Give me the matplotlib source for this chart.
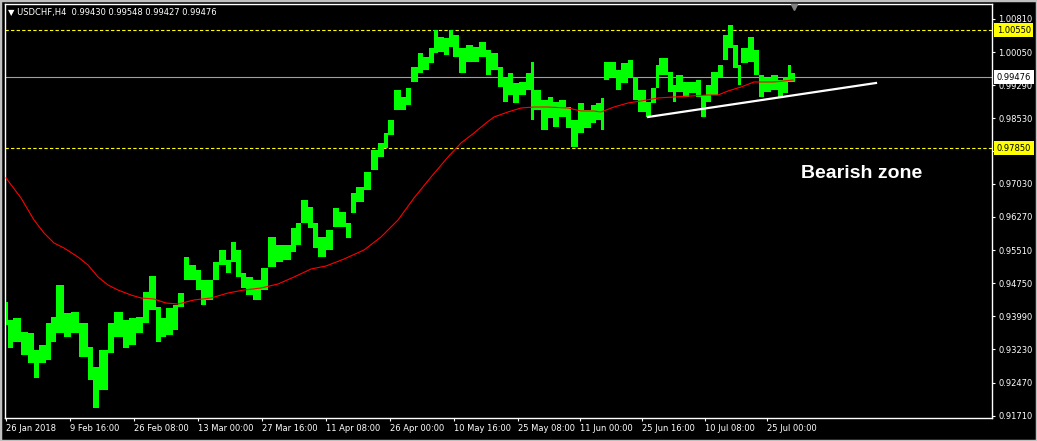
import matplotlib
matplotlib.use("Agg")
import matplotlib.pyplot as plt
import matplotlib.transforms as mtransforms
from matplotlib.patches import Rectangle
import numpy as np

# H4 price bars, grouped in short runs (start bar, high, low)
bar_start = [0, 2, 7, 15, 22, 28, 33, 40, 45, 50, 58, 65, 73, 82, 87, 93, 102, 108, 117, 123,
             130, 137, 143, 150, 155, 160, 167, 172, 178, 183, 190, 195, 200, 207, 213, 220, 225, 230, 235, 240,
             247, 255, 262, 270, 277, 285, 290, 295, 302, 307, 312, 320, 327, 333, 340, 345, 350, 358, 365, 372,
             378, 382, 388, 395, 400, 405, 412, 417, 423, 428, 432, 438, 443, 447, 453, 460, 467, 473, 480, 485,
             492, 497, 502, 507, 513, 520, 525, 528, 535, 542, 547, 553, 560, 565, 572, 578, 585, 590, 595, 598,
             603, 610, 615, 622, 627, 632, 640, 645, 650, 653, 662, 667, 670, 677, 683, 690, 695, 700, 705, 712,
             717, 722, 727, 732, 735, 742, 748, 753, 758, 765, 772, 777, 782, 785]
last_bar = 789

bar_high = [0.94318, 0.93905, 0.93951, 0.93630, 0.93607, 0.93217, 0.93331, 0.93836, 0.93974, 0.94708,
            0.94066, 0.94088, 0.93836, 0.93286, 0.92827, 0.93217, 0.93836, 0.94088, 0.93905, 0.93951,
            0.93974, 0.94547, 0.94914, 0.94203, 0.93951, 0.94180, 0.94249, 0.94524, 0.95350, 0.95167,
            0.95052, 0.94823, 0.94823, 0.95236, 0.95511, 0.95281, 0.95694, 0.95511, 0.94983, 0.94891,
            0.94823, 0.95098, 0.95809, 0.95626, 0.95626, 0.96016, 0.96130, 0.96658, 0.96497, 0.96130,
            0.95809, 0.95970, 0.96474, 0.96383, 0.96130, 0.96818, 0.96956, 0.97300, 0.97805, 0.97965,
            0.98195, 0.98493, 0.99181, 0.99021, 0.99227, 0.99709, 1.00030, 0.99938, 1.00145, 1.00558,
            1.00397, 1.00374, 1.00558, 1.00443, 1.00145, 1.00214, 1.00168, 1.00282, 1.00099, 1.00030,
            0.99709, 0.99480, 0.99571, 0.99342, 0.99365, 0.99571, 0.99824, 0.99181, 0.98952, 0.99021,
            0.98906, 0.98952, 0.98791, 0.98493, 0.98883, 0.98723, 0.98837, 0.98883, 0.98998, 0.99824,
            0.99824, 0.99640, 0.99801, 0.99870, 0.99480, 0.99181, 0.98906, 0.99227, 0.99755, 0.99915,
            0.99594, 0.99296, 0.99525, 0.99365, 0.99365, 0.99411, 0.99067, 0.99296, 0.99594, 0.99755,
            1.00443, 1.00672, 1.00214, 0.99755, 1.00145, 1.00397, 1.00099, 0.99525, 0.99457, 0.99525,
            0.99411, 0.99480, 0.99755, 0.99571]

bar_low = [0.93790, 0.93263, 0.93400, 0.93102, 0.92918, 0.92574, 0.92918, 0.92987, 0.93400, 0.93607,
           0.93515, 0.93607, 0.93056, 0.92528, 0.91886, 0.92299, 0.93148, 0.93515, 0.93263, 0.93331,
           0.93607, 0.93836, 0.94134, 0.93400, 0.93515, 0.93561, 0.93676, 0.94203, 0.94823, 0.94823,
           0.94593, 0.94249, 0.94364, 0.94823, 0.95167, 0.94983, 0.95236, 0.94891, 0.94639, 0.94478,
           0.94364, 0.94593, 0.95121, 0.95236, 0.95281, 0.95465, 0.95626, 0.96130, 0.96016, 0.95557,
           0.95350, 0.95511, 0.96038, 0.96038, 0.95786, 0.96360, 0.96612, 0.96887, 0.97346, 0.97644,
           0.97851, 0.98149, 0.98723, 0.98723, 0.98837, 0.99365, 0.99571, 0.99640, 0.99801, 1.00030,
           1.00053, 0.99984, 1.00168, 0.99938, 0.99571, 0.99824, 0.99824, 0.99938, 0.99525, 0.99640,
           0.99250, 0.98906, 0.99067, 0.98883, 0.99067, 0.99181, 0.98493, 0.98723, 0.98264, 0.98539,
           0.98333, 0.98562, 0.98310, 0.97874, 0.98195, 0.98310, 0.98424, 0.98493, 0.98264, 0.99411,
           0.99480, 0.99181, 0.99342, 0.99480, 0.98952, 0.98677, 0.98562, 0.98883, 0.99227, 0.99525,
           0.99135, 0.98906, 0.99135, 0.99021, 0.99113, 0.99021, 0.98562, 0.98906, 0.99067, 0.99480,
           0.99870, 1.00145, 0.99686, 0.99296, 0.99801, 0.99824, 0.99525, 0.99021, 0.99135, 0.99181,
           0.99021, 0.99113, 0.99365, 0.99365]

# moving average (red)
ma_x = [0, 15, 28, 38, 48, 58, 72, 82, 92, 102, 112, 125, 135, 148, 160, 172, 188, 205, 222, 238,
        255, 272, 288, 305, 320, 338, 358, 375, 392, 408, 425, 442, 455, 468, 480, 488, 502, 515, 528, 542,
        562, 575, 588, 595, 608, 622, 635, 652, 668, 685, 702, 712, 722, 735, 748, 768, 787]
ma_y = [0.97162, 0.96704, 0.96199, 0.95901, 0.95671, 0.95557, 0.95350, 0.95167, 0.94891, 0.94708,
        0.94593, 0.94478, 0.94410, 0.94387, 0.94295, 0.94272, 0.94364, 0.94410, 0.94524, 0.94593,
        0.94639, 0.94731, 0.94891, 0.95075, 0.95144, 0.95304, 0.95511, 0.95809, 0.96199, 0.96704,
        0.97185, 0.97644, 0.97965, 0.98195, 0.98424, 0.98562, 0.98677, 0.98768, 0.98791, 0.98791,
        0.98768, 0.98700, 0.98700, 0.98677, 0.98791, 0.98883, 0.98929, 0.98998, 0.99021, 0.99044,
        0.99067, 0.99067, 0.99158, 0.99250, 0.99365, 0.99365, 0.99411]

trend_x = [642, 870]
trend_y = [0.98562, 0.99342]

resistance = 1.00550
support = 0.97850
last_price = 0.99476

date_pos = [0, 64, 128, 192, 256, 320, 384, 448, 512, 574, 636, 699, 761]
date_labels = ['26 Jan 2018', '9 Feb 16:00', '26 Feb 08:00', '13 Mar 00:00', '27 Mar 16:00',
               '11 Apr 08:00', '26 Apr 00:00', '10 May 16:00', '25 May 08:00', '11 Jun 00:00',
               '25 Jun 16:00', '10 Jul 08:00', '25 Jul 00:00']
price_ticks = [0.91710, 0.92470, 0.93230, 0.93990, 0.94750, 0.95510, 0.96270, 0.97030,
               0.97790, 0.98530, 0.99290, 1.00050, 1.00810]

fig = plt.figure(figsize=(10.37, 4.41), dpi=100, facecolor='black')
ax = fig.add_axes([5 / 1037, 23 / 441, 987 / 1037, 414 / 441])
ax.set_facecolor('black')

widths = np.diff(bar_start + [last_bar])
ax.bar(bar_start, np.array(bar_high) - np.array(bar_low), bottom=bar_low, width=widths,
       align='edge', color='#00ff00', linewidth=0, zorder=3)

ax.plot(ma_x, ma_y, color='#ff0000', lw=0.8, zorder=4)
ax.plot(trend_x, trend_y, color='white', lw=1.6, zorder=5)

ax.axhline(resistance, color='#ffff00', lw=0.8, dashes=(3, 2), zorder=2)
ax.axhline(support, color='#ffff00', lw=0.8, dashes=(3, 2), zorder=2)
ax.axhline(last_price, color='#a0a0a4', lw=0.8, zorder=2)

ax.text(856, 0.97277, 'Bearish zone', color='white', fontsize=14, fontweight='bold',
        family='Liberation Sans', ha='center', va='center', zorder=6)

ax.set_xlim(-1, 986)
ax.set_ylim(0.91657, 1.01154)

for s in ax.spines.values():
    s.set_color('white')
    s.set_linewidth(1)

ax.yaxis.tick_right()
ax.set_yticks(price_ticks)
# 0.97790 sits under the support label box, so only its tick mark shows
ax.set_yticklabels(['' if abs(v - support) < 0.001 else f'{v:.5f}' for v in price_ticks])
ax.set_xticks(date_pos)
ax.set_xticklabels(date_labels, ha='left')
ax.tick_params(colors='white', labelsize=6, length=2.5, width=0.8, pad=1.5)
ax.tick_params(axis='y', pad=2)

# price labels on the right scale
trans = mtransforms.blended_transform_factory(ax.transAxes, ax.transData)
for level, bg in [(resistance, '#ffff00'), (support, '#ffff00'), (last_price, 'white')]:
    ax.annotate(f'{level:.5f}', xy=(1, level), xycoords=trans, xytext=(3.5, 0),
                textcoords='offset points', ha='left', va='center', fontsize=6, color='black',
                bbox=dict(boxstyle='square,pad=0.3', fc=bg, ec='none'), zorder=10,
                annotation_clip=False)

# chart shift marker
ax.plot([788], [1.01085], marker='v', color='#808080', markersize=5, clip_on=False, zorder=7)

fig.text(8 / 1037, 1 - 13 / 441, '\u25bc USDCHF,H4  0.99430 0.99548 0.99427 0.99476',
         color='white', fontsize=6, va='center', ha='left')

fig.patches.append(Rectangle((0, 0), 1, 1, transform=fig.transFigure, fill=False,
                             ec='#c0c0c0', lw=2.5, zorder=20))

fig.savefig('out.png', dpi=100, facecolor='black')
